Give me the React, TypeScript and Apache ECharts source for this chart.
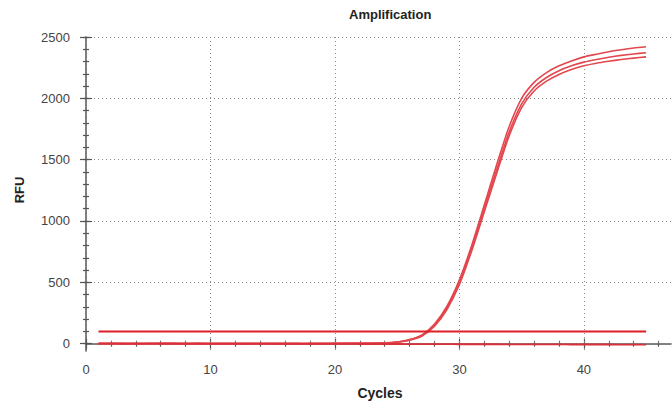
import React, { useEffect, useRef } from "react";
import * as echarts from "echarts";

const cycles = [1, 2, 3, 4, 5, 6, 7, 8, 9, 10, 11, 12, 13, 14, 15, 16, 17, 18, 19, 20, 21, 22, 23, 24, 25, 26, 27, 28, 29, 30, 31, 32, 33, 34, 35, 36, 37, 38, 39, 40, 41, 42, 43, 44, 45];

const wellA = [0, 1, 0, -1, 0, 1, 1, 0, 0, 1, 0, 0, 1, 1, 0, 1, 1, 2, 2, 2, 3, 3, 4, 6, 14, 33, 72, 160, 305, 520, 805, 1130, 1460, 1770, 2000, 2130, 2210, 2265, 2305, 2338, 2360, 2380, 2396, 2410, 2421];
const wellB = [-1, 0, 0, 0, -1, 0, 1, 0, 0, 0, 1, 0, 0, 1, 1, 0, 1, 1, 1, 2, 2, 3, 3, 5, 12, 30, 66, 150, 290, 500, 780, 1100, 1420, 1725, 1955, 2090, 2170, 2225, 2265, 2295, 2317, 2335, 2350, 2362, 2372];
const wellC = [0, 0, -1, 0, 0, 0, 0, 1, 0, 0, 0, 1, 0, 0, 1, 1, 0, 1, 1, 1, 2, 2, 3, 4, 11, 28, 62, 142, 278, 482, 760, 1075, 1390, 1695, 1925, 2060, 2140, 2195, 2235, 2265, 2286, 2302, 2316, 2328, 2338];
const negControl = [2, 2, 1, 1, 2, 1, 1, 0, 1, 0, 0, 0, -1, 0, -1, -1, -1, -2, -2, -2, -2, -3, -3, -3, -3, -4, -4, -4, -4, -5, -5, -5, -5, -6, -6, -6, -6, -6, -7, -7, -7, -7, -8, -8, -8];

const thresholdX = [1, 45];
const thresholdY = [100, 100];

const xTicks = [0, 10, 20, 30, 40];
const xMinorTicks = [2, 4, 6, 8, 12, 14, 16, 18, 22, 24, 26, 28, 32, 34, 36, 38, 42, 44, 46];
const xTopTicks = [2, 4, 6, 8, 10, 12, 14, 16, 18, 20, 22, 24, 26, 28, 30, 32, 34, 36, 38, 40, 42, 44, 46];
const yTicks = [0, 500, 1000, 1500, 2000, 2500];
const yMinorTicks = [0, 100, 200, 300, 400, 500, 600, 700, 800, 900, 1000, 1100, 1200, 1300, 1400, 1500, 1600, 1700, 1800, 1900, 2000, 2100, 2200, 2300, 2400, 2500];

const FONT = "'Liberation Sans', Arial, sans-serif";
const AXIS = "#555";

function pairs(xs: number[], ys: number[]) {
  return xs.map((x, i) => [x, ys[i]]);
}

function tickAxis(base: any, values: number[], inside: boolean, length: number) {
  return {
    ...base,
    axisLine: { show: false },
    axisTick: { show: true, inside, length, customValues: values, lineStyle: { color: AXIS, width: 1.2 } },
    axisLabel: { show: false },
    splitLine: { show: false },
  };
}

export default function App() {
  const ref = useRef<HTMLDivElement>(null);
  useEffect(() => {
    if (!ref.current) return;
    const chart = echarts.init(ref.current, undefined, { renderer: "svg" });
    const baseX = { type: "value", min: 0, max: 47, position: "bottom" };
    const baseY = { type: "value", min: -60, max: 2500, position: "left" };
    const grid = { type: [1, 3], color: "#8a8a8a", width: 1 };
    const curveStyle = { color: "#e2474e", width: 1.6 };
    const series: any[] = [wellA, wellB, wellC].map((w) => ({
      type: "line",
      data: pairs(cycles, w),
      smooth: 0.25,
      symbol: "none",
      lineStyle: curveStyle,
      xAxisIndex: 0,
      yAxisIndex: 0,
    }));
    series.push({
      type: "line",
      data: pairs(cycles, negControl),
      smooth: 0.3,
      symbol: "none",
      lineStyle: { color: "#d9303a", width: 1.8 },
      xAxisIndex: 0,
      yAxisIndex: 0,
    });
    series.push({
      type: "line",
      data: pairs(thresholdX, thresholdY),
      symbol: "none",
      lineStyle: { color: "#dd1f26", width: 2 },
      xAxisIndex: 0,
      yAxisIndex: 0,
    });
    chart.setOption({
      animation: false,
      backgroundColor: "#fff",
      grid: { left: 86, right: 1, top: 37, bottom: 53, containLabel: false },
      xAxis: [
        {
          ...baseX,
          axisLine: { show: true, lineStyle: { color: AXIS, width: 1.5 } },
          axisTick: { show: true, inside: false, length: 5, customValues: xTicks, lineStyle: { color: AXIS, width: 1.2 } },
          axisLabel: { show: true, customValues: xTicks, color: "#444", fontSize: 13, margin: 12, fontFamily: FONT, formatter: (v: number) => String(v) },
          splitLine: { show: true, lineStyle: grid },
        },
        tickAxis(baseX, xTicks, true, 5),
        tickAxis(baseX, xMinorTicks, false, 3),
        tickAxis(baseX, xMinorTicks, true, 2),
        {
          ...baseX,
          position: "top",
          axisLine: { show: true, lineStyle: { color: "#8a8a8a", type: [1, 3], width: 1 } },
          axisTick: { show: true, inside: false, length: 3, customValues: xTopTicks, lineStyle: { color: "#777", width: 1 } },
          axisLabel: { show: false },
          splitLine: { show: false },
        },
      ],
      yAxis: [
        {
          ...baseY,
          axisLine: { show: true, lineStyle: { color: AXIS, width: 1.5 } },
          axisTick: { show: true, inside: false, length: 6, customValues: yTicks, lineStyle: { color: AXIS, width: 1.2 } },
          axisLabel: { show: true, customValues: yTicks, color: "#444", fontSize: 13, margin: 16, fontFamily: FONT, formatter: (v: number) => String(v) },
          splitLine: { show: true, lineStyle: grid },
        },
        tickAxis(baseY, yTicks, true, 6),
        tickAxis(baseY, yMinorTicks, false, 3),
        tickAxis(baseY, yMinorTicks, true, 3),
        {
          ...baseY,
          position: "right",
          axisLine: { show: true, lineStyle: { color: "#8a8a8a", type: [1, 3], width: 1 } },
          axisTick: { show: false },
          axisLabel: { show: false },
          splitLine: { show: false },
        },
      ],
      graphic: [
        {
          type: "text",
          left: 349,
          top: 8,
          style: { text: "Amplification", font: `bold 13px ${FONT}`, fill: "#222", textAlign: "center" },
        },
        {
          type: "text",
          x: 19,
          y: 190,
          rotation: Math.PI / 2,
          style: { text: "RFU", font: `bold 13px ${FONT}`, fill: "#222", align: "center", verticalAlign: "middle" },
        },
        {
          type: "text",
          x: 380,
          y: 393,
          style: { text: "Cycles", font: `bold 14px ${FONT}`, fill: "#222", align: "center", verticalAlign: "middle" },
        },
      ],
      series,
    });
    return () => chart.dispose();
  }, []);
  return <div ref={ref} style={{ width: 672, height: 404, position: "fixed", left: 0, top: 0 }} />;
}
